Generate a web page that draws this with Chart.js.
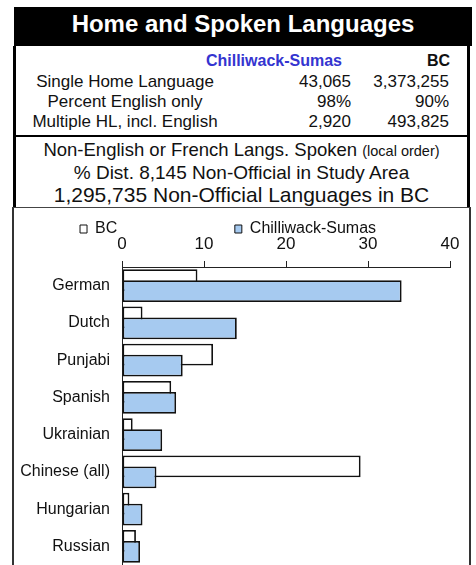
<!DOCTYPE html>
<html><head><meta charset="utf-8">
<script src="https://cdn.jsdelivr.net/npm/chart.js@4/dist/chart.umd.min.js"></script>
<style>
html,body{margin:0;padding:0;background:#fff;}
body{width:476px;height:565px;overflow:hidden;position:relative;font-family:"Liberation Sans",Arial,sans-serif;color:#111;}
.abs{position:absolute;white-space:nowrap;}
#band{left:14px;top:7px;width:458px;height:39px;background:#000;}
#title{left:14px;width:458px;top:11.7px;line-height:24px;font-size:24px;font-weight:bold;color:#fff;text-align:center;}
#upper{left:13px;top:46px;width:457px;height:161px;box-sizing:border-box;border-left:3px solid #000;border-right:3px solid #000;}
#sep{left:13px;top:135px;width:457px;height:2px;background:#000;}
#chartbox{left:12px;top:207px;width:459px;height:380px;box-sizing:border-box;border:2px solid #333;border-top:1px solid #444;}
.lab{font-size:17px;line-height:17px;text-align:center;width:222px;left:14px;}
.val{font-size:17px;line-height:17px;text-align:right;}
.hdr{font-size:16px;line-height:16px;font-weight:bold;text-align:right;}
.sub{left:16px;width:451px;text-align:center;}
#chart{position:absolute;left:15px;top:209px;}
</style>
</head>
<body>
<div id="band" class="abs"></div>
<div id="title" class="abs"></div>
<div id="upper" class="abs"></div>
<div id="sep" class="abs"></div>
<div id="chartbox" class="abs"></div>
<div id="texts"></div>
<canvas id="chart" width="454" height="356"></canvas>
<script>
// ---- data ----
const titleText = 'Home and Spoken Languages';
const areaName = 'Chilliwack-Sumas';
const provName = 'BC';
const tableLabels = ['Single Home Language', 'Percent English only', 'Multiple HL, incl. English'];
const areaValues = ['43,065', '98%', '2,920'];
const provValues = ['3,373,255', '90%', '493,825'];
const subtitle1 = 'Non-English or French Langs. Spoken';
const subtitle1Note = '(local order)';
const subtitle2 = '% Dist. 8,145 Non-Official in Study Area';
const subtitle3 = '1,295,735 Non-Official Languages in BC';
const categories = ['German', 'Dutch', 'Punjabi', 'Spanish', 'Ukrainian', 'Chinese (all)', 'Hungarian', 'Russian'];
const bcShare = [9.2, 2.5, 11.1, 6.0, 1.3, 29.1, 0.9, 1.7];
const areaShare = [34.1, 14.0, 7.4, 6.6, 4.9, 4.2, 2.5, 2.2];
const xTicks = [0, 10, 20, 30, 40];

// ---- header texts ----
document.getElementById('title').textContent = titleText;
const box = document.getElementById('texts');
function addText(cls, text, style) {
  const d = document.createElement('div');
  d.className = 'abs ' + cls;
  d.textContent = text;
  Object.assign(d.style, style);
  box.appendChild(d);
  return d;
}
addText('hdr', areaName, {right: (476 - 342) + 'px', top: '53.2px', color: '#3434d0'});
addText('hdr', provName, {right: (476 - 450) + 'px', top: '53.2px'});
const rowTops = [73, 93, 113];
tableLabels.forEach((t, i) => {
  addText('lab', t, {top: rowTops[i] + 'px'});
  addText('val', areaValues[i], {right: (476 - 351) + 'px', top: rowTops[i] + 'px'});
  addText('val', provValues[i], {right: (476 - 449) + 'px', top: rowTops[i] + 'px'});
});
const s1 = addText('sub', subtitle1 + ' ', {top: '141.3px', fontSize: '18.5px', lineHeight: '18.5px'});
const note = document.createElement('span');
note.textContent = subtitle1Note;
note.style.fontSize = '14.5px';
s1.appendChild(note);
addText('sub', subtitle2, {top: '163.4px', fontSize: '19px', lineHeight: '19px'});
addText('sub', subtitle3, {top: '184.2px', fontSize: '21px', lineHeight: '21px'});

// ---- chart ----
Chart.defaults.font.family = '"Liberation Sans", Arial, sans-serif';
const areaOnTop = {
  id: 'areaOnTop',
  beforeDatasetDraw(chart, args) { if (args.index === 1) return false; },
  afterDatasetsDraw(chart) {
    const meta = chart.getDatasetMeta(1);
    if (!meta.hidden) meta.controller.draw();
  }
};
new Chart(document.getElementById('chart'), {
  type: 'bar',
  data: {
    labels: categories,
    datasets: [
      {label: provName, data: bcShare, backgroundColor: '#ffffff', borderColor: '#111', borderWidth: 1.8, borderSkipped: false,
       categoryPercentage: 0.584, barPercentage: 2.0},
      {label: areaName, data: areaShare, backgroundColor: '#a6caf0', borderColor: '#111', borderWidth: 1.8, borderSkipped: false,
       categoryPercentage: 0.584, barPercentage: 2.0}
    ]
  },
  options: {
    indexAxis: 'y',
    responsive: false,
    animation: false,
    devicePixelRatio: 1,
    layout: {padding: {top: 10, left: 0, right: 19, bottom: 0}},
    plugins: {
      tooltip: {enabled: false},
      legend: {
        position: 'top', align: 'center', maxHeight: 16,
        labels: {
          boxWidth: 7, boxHeight: 8, padding: 2, color: '#111', font: {size: 16},
          generateLabels(chart) {
            const items = Chart.defaults.plugins.legend.labels.generateLabels(chart);
            items.forEach(it => { it.lineWidth = 1; });
            items[0].text = items[0].text + ' '.repeat(26);
            items[1].text = items[1].text + '  ';
            return items;
          }
        }
      }
    },
    scales: {
      x: {
        position: 'top', min: xTicks[0], max: xTicks[xTicks.length - 1],
        afterFit(scale) { scale.height = 32; },
        ticks: {stepSize: xTicks[1] - xTicks[0], padding: 6, color: '#111', font: {size: 17}},
        grid: {drawOnChartArea: false, drawTicks: true, tickLength: 6, color: '#222', lineWidth: 1},
        border: {display: true, color: '#222', width: 1}
      },
      y: {
        afterFit(scale) { scale.width = 107; scale.paddingTop = 0; scale.paddingBottom = 0; },
        ticks: {padding: 12, color: '#111', font: {size: 16}, autoSkip: false},
        grid: {display: false, drawTicks: false},
        border: {display: true, color: '#222', width: 1}
      }
    }
  },
  plugins: [areaOnTop]
});
</script>
</body></html>
